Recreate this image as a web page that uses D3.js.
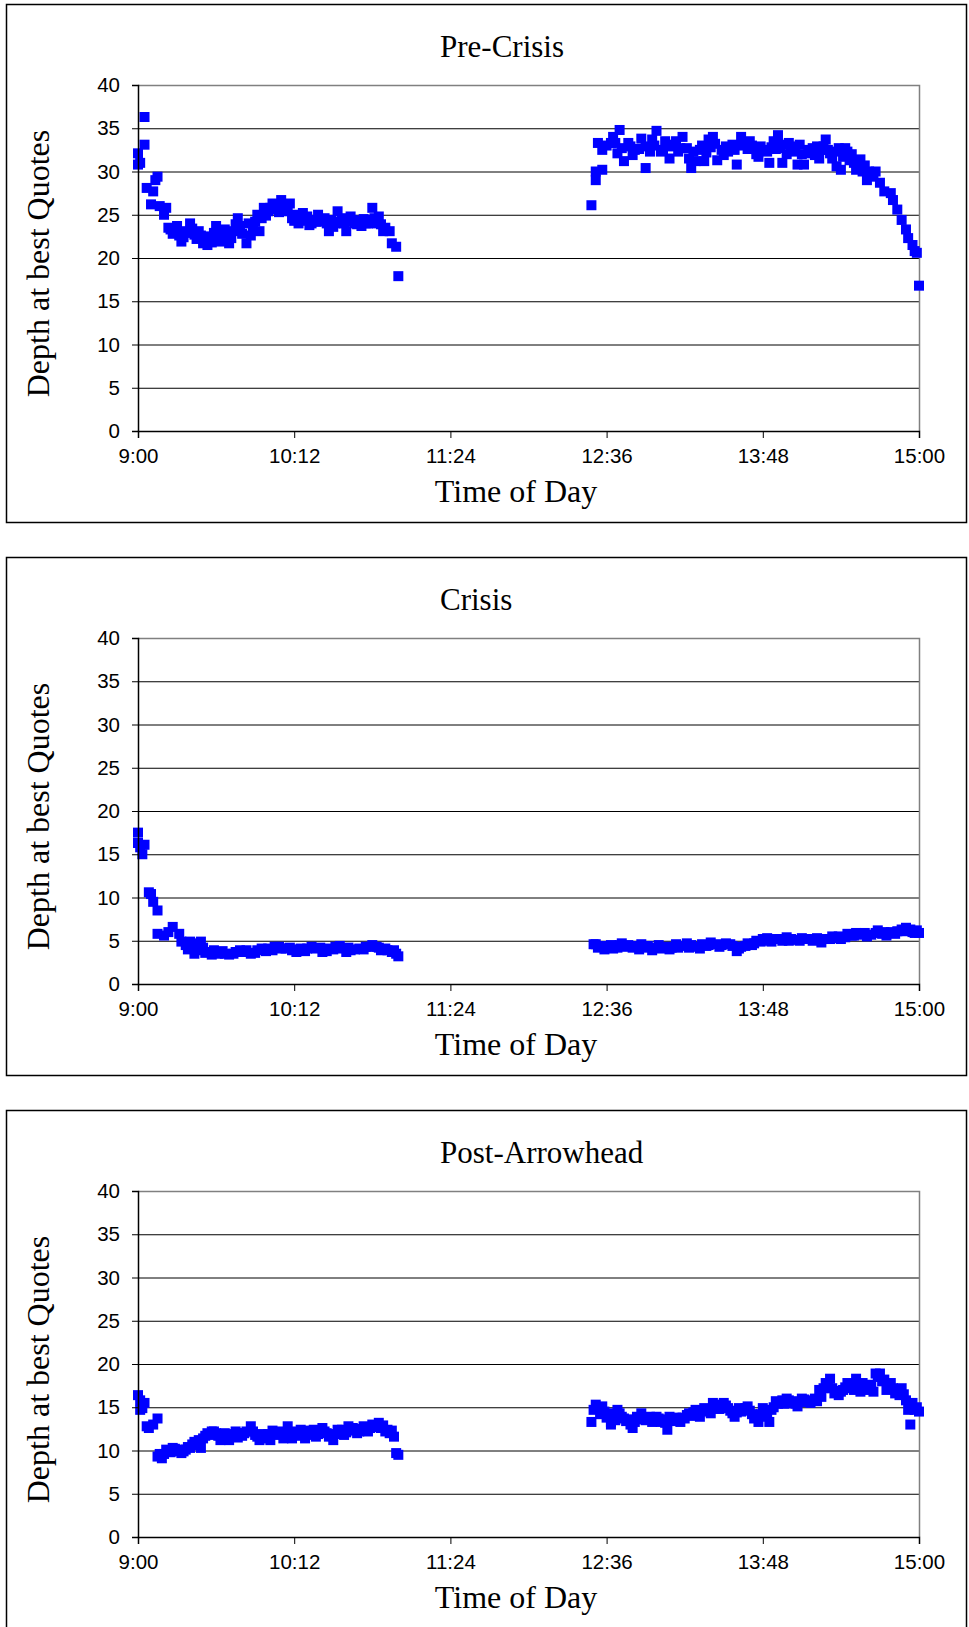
<!DOCTYPE html>
<html><head><meta charset="utf-8">
<script src="https://cdn.jsdelivr.net/npm/d3@7"></script>
<style>body{margin:0;background:#fff} svg{display:block}</style>
</head><body>
<svg id="chart" width="969" height="1627"></svg>
<script>
// ---------- data ----------
const panelTitles = ["Pre-Crisis", "Crisis", "Post-Arrowhead"];
const timeTickLabels = ["9:00", "10:12", "11:24", "12:36", "13:48", "15:00"];
const depthTicks = [0, 5, 10, 15, 20, 25, 30, 35, 40];
const xAxisTitle = "Time of Day";
const yAxisTitle = "Depth at best Quotes";

const preCrisisMinutes = [0,0,1,3,3,4,6,7,8,9,10,12,13,14,15,18,20,22,24,26,28,30,32,33,36,38,40,42,44,46,47,50,51,53,55,56,58,60,62,64,66,68,70,71,73,74,76,79,81,83,86,88,89,92,93,96,98,100,103,105,108,111,113,116,117,119,120,
  209,211,211,212,214,214,218,219,221,222,224,227,229,232,234,234,237,239,241,243,245,247,249,251,253,255,257,259,261,263,265,267,269,271,274,276,278,280,282,284,286,288,291,293,295,297,297,300,302,304,305,307,310,311,314,315,317,319,322,323,324,327,328,330,331,334,336,338,340,342,344,347,348,350,352,354,355,357,358,359,360,
  16,19,21,23,25,27,29,31,34,35,37,39,41,43,45,48,52,54,57,59,61,63,65,67,69,72,75,77,78,80,82,84,87,90,91,94,95,97,99,101,102,104,106,107,109,110,112,114,
  216,220,223,226,228,231,236,238,242,246,248,250,254,256,260,262,264,266,270,272,273,275,277,281,283,285,287,290,292,294,296,299,301,303,306,309,312,313,316,318,320,321,325,326,329,332,333,335,337,339];
const preCrisisDepth = [30.8,32.1,31.0,33.1,36.3,28.1,26.2,27.7,29.0,29.4,26.0,25.0,25.8,23.5,23.3,23.7,21.9,23.1,24.0,22.7,23.1,21.7,21.5,22.5,23.7,21.9,23.3,21.7,23.1,24.6,23.7,21.7,24.0,23.5,25.0,23.1,25.8,25.4,26.3,25.6,26.7,26.2,26.3,24.6,25.0,24.0,25.2,23.8,24.4,25.0,24.6,23.1,24.4,25.4,24.2,23.1,24.8,24.0,23.7,24.0,25.8,24.8,23.1,23.1,21.7,21.3,17.9,
  26.1,29.0,30.0,33.3,32.5,30.2,33.3,34.0,32.1,34.8,31.2,32.9,32.5,33.8,30.4,32.9,33.7,34.7,32.3,33.5,31.5,33.1,32.3,34.0,32.7,30.4,31.2,32.5,31.2,33.7,34.0,31.3,32.5,32.9,33.1,30.8,34.0,33.3,33.5,32.7,31.7,32.5,31.0,33.5,34.2,31.0,33.1,33.3,32.3,30.8,33.1,30.8,32.1,32.7,31.5,32.5,33.7,32.1,30.6,32.7,30.2,32.3,31.3,31.0,30.2,30.0,29.0,29.4,30.0,28.7,27.7,27.5,26.7,25.6,24.4,23.3,22.3,21.5,20.8,20.6,16.8,
  22.8,22.6,22.4,22.9,23.4,22.2,22.6,22.3,21.8,22.9,22.7,22.4,22.5,22.3,23.9,22.8,22.6,24.2,24.6,24.9,25.8,26.0,25.3,25.9,25.4,24.3,24.5,24.3,24.8,24.0,24.2,24.2,24.0,23.6,24.0,24.6,24.0,24.2,24.4,23.9,24.3,24.5,24.0,24.4,24.6,24.0,23.9,23.5,
  33.0,33.3,32.7,33.3,31.9,32.6,32.3,33.0,32.5,32.9,33.5,32.7,31.5,32.3,33.0,32.2,32.8,33.2,31.9,32.3,32.7,32.5,33.0,32.6,33.0,32.0,32.9,32.3,32.8,32.6,32.7,32.0,32.9,32.6,32.0,32.5,31.9,32.9,32.9,32.5,31.5,32.3,31.7,32.7,32.0,30.8,31.4,30.7,30.0,29.6];

const crisisMinutes = [0,0,1,2,3,5,6,7,9,9,12,14,16,19,20,22,24,26,28,29,32,34,37,40,42,45,47,49,52,55,57,60,63,66,68,71,73,75,78,82,85,88,91,94,96,98,102,105,108,110,112,115,118,119,120,
  210,212,214,216,218,221,223,225,228,230,232,234,237,239,241,244,246,248,251,253,255,258,260,262,264,267,269,271,274,276,278,281,283,285,288,290,292,294,297,299,301,304,306,308,311,313,315,317,320,322,324,327,329,331,334,336,338,341,343,345,347,350,352,354,357,359,360,
  23,25,27,30,31,35,39,44,50,54,59,62,65,70,74,77,80,84,87,90,93,97,100,104,107,111,114,117,
  211,215,219,222,226,231,235,240,245,249,254,259,263,268,273,277,280,284,287,291,296,300,305,310,314,319,323,326,330,335,340,344,349,353,356,358];
const crisisDepth = [17.5,16.3,15.8,15.0,16.1,10.6,10.4,9.5,8.5,5.8,5.6,6.0,6.6,5.8,4.9,4.5,4.9,3.5,4.7,4.9,3.7,3.4,3.5,3.5,3.4,3.7,3.9,3.7,3.5,3.9,4.1,4.1,4.3,4.1,4.1,3.9,3.7,4.1,4.1,4.1,3.7,4.1,4.3,4.1,3.7,3.9,4.1,4.3,4.5,4.3,3.9,3.9,3.9,3.5,3.2,
  4.6,4.2,4.4,4.3,4.5,4.2,4.7,4.3,4.2,4.4,4.6,4.2,3.9,4.2,4.1,4.3,4.2,4.6,4.4,4.7,4.5,4.3,4.6,4.4,4.8,4.6,4.5,4.7,4.4,3.8,4.3,4.7,4.5,5.0,5.2,5.3,4.9,5.2,5.0,5.4,5.2,5.1,5.3,5.2,5.0,5.3,4.8,5.2,5.5,5.3,5.2,5.8,5.6,5.9,5.7,5.5,5.7,6.2,5.8,5.6,6.0,6.1,6.3,6.5,6.0,6.2,5.9,
  4.0,4.6,3.9,4.2,3.6,3.9,3.8,3.5,3.9,3.6,3.8,3.9,4.3,4.2,4.0,3.8,4.3,4.2,3.8,4.0,4.4,4.2,4.0,4.0,4.3,4.2,4.1,3.7,
  4.6,4.0,4.1,4.5,4.5,4.0,4.4,4.5,4.0,4.2,4.2,4.1,4.5,4.3,4.6,4.1,4.4,4.7,4.9,5.0,5.2,5.0,5.0,5.2,5.1,5.2,5.5,5.4,5.6,5.9,5.9,6.0,5.8,6.1,6.3,5.9];

const postArrowheadMinutes = [0,1,1,2,3,4,5,7,9,9,11,13,16,18,20,22,25,26,29,30,32,34,36,38,40,42,45,47,49,52,54,56,59,61,63,65,67,69,71,73,75,77,79,82,84,85,88,90,92,95,97,99,102,104,106,108,111,112,115,116,118,119,120,
  209,211,214,215,218,218,221,222,224,227,228,230,232,234,237,239,241,244,245,247,250,252,254,257,259,261,264,265,267,270,272,275,277,279,281,284,286,288,291,292,294,297,299,301,304,306,308,311,313,314,317,319,321,323,325,327,329,331,333,334,337,339,340,342,344,345,347,349,351,352,354,355,356,357,358,360,
  10,12,14,15,17,19,21,23,24,27,28,31,33,35,37,39,41,43,44,46,48,50,53,55,57,58,60,62,64,66,68,70,72,74,76,78,80,81,83,86,87,89,91,93,94,96,98,100,101,103,105,107,109,110,113,114,117,
  210,212,213,216,217,219,220,223,225,226,229,231,233,235,236,238,240,242,243,246,248,249,251,253,255,256,258,260,262,263,266,268,269,271,273,274,276,278,280,282,283,285,287,289,290,293,295,296,298,300,302,303,305,307,309,310,312,315,316,318,320,322,324,326,328,330,332,335,336,338,341,343,346,348,350,353,356,359];
const postArrowheadDepth = [16.4,15.8,14.7,14.9,15.5,12.8,12.6,13.0,13.7,9.3,9.1,10.1,10.3,9.9,9.7,10.1,10.7,11.0,10.3,11.4,12.0,12.2,12.0,11.2,12.0,11.2,12.2,12.0,12.0,12.8,11.8,11.2,11.6,11.2,11.8,12.2,11.4,12.8,11.4,12.2,12.4,11.4,11.8,11.6,12.2,12.6,11.6,11.2,12.4,11.8,12.8,12.6,12.2,12.8,12.2,13.0,13.2,12.6,12.4,12.0,11.6,9.7,9.5,
  13.3,15.3,15.1,14.5,13.3,13.0,14.7,14.3,13.7,13.0,12.6,13.9,14.3,13.5,13.3,13.9,13.3,12.4,13.9,13.5,13.3,13.7,14.3,14.7,13.9,14.9,14.3,15.5,15.3,15.5,14.9,13.9,14.9,14.7,15.1,13.7,13.3,14.9,13.3,14.7,15.7,15.8,16.0,15.5,15.1,16.0,15.7,15.8,15.7,17.0,17.8,18.3,16.6,16.4,17.0,17.8,17.2,18.3,16.8,17.8,17.6,16.8,18.9,18.9,18.2,17.0,17.8,16.6,16.4,17.2,15.8,14.7,13.0,15.5,14.7,14.5,
  9.6,9.6,10.0,9.8,10.2,10.1,9.9,10.4,10.3,10.6,11.2,11.7,11.8,12.2,11.7,11.6,11.8,11.9,11.6,11.5,11.7,12.2,12.2,11.6,11.9,11.4,11.9,12.3,11.9,12.0,12.0,12.1,11.9,11.7,11.8,12.3,12.0,12.4,11.9,12.2,12.0,11.7,11.9,12.1,12.4,12.1,12.3,12.5,12.0,12.4,12.6,12.6,12.7,12.9,12.9,12.2,12.3,
  14.7,14.8,14.2,13.8,14.3,14.1,13.5,13.9,13.4,13.6,13.3,13.6,13.8,13.6,13.9,13.4,13.7,13.6,13.2,13.4,13.8,13.6,13.8,14.1,14.0,14.4,14.3,14.6,14.5,14.8,15.0,14.8,15.1,15.2,14.6,14.3,14.4,14.5,14.9,14.6,14.2,13.8,14.2,14.4,13.9,15.0,15.4,15.5,15.4,15.8,15.7,15.4,15.6,15.9,15.6,15.5,16.0,16.2,17.2,17.6,17.2,16.9,16.8,17.3,17.6,17.0,17.3,17.0,17.3,17.4,18.5,18.0,17.5,17.2,16.9,16.5,15.0,15.0];

const panelMinutes = [preCrisisMinutes, crisisMinutes, postArrowheadMinutes];
const panelDepth = [preCrisisDepth, crisisDepth, postArrowheadDepth];

// ---------- drawing ----------
const svg = d3.select("#chart");
svg.append("rect").attr("width", 969).attr("height", 1627).attr("fill", "#fff");

const panelStep = 553;
const plot = {left: 138, right: 919, top: 85, bottom: 431};
const toMinutes = s => { const [h, m] = s.split(":").map(Number); return (h - 9) * 60 + m; };
const tickMinutes = timeTickLabels.map(toMinutes);

const x = d3.scaleLinear().domain([0, 360]).range([plot.left, plot.right]);
const y = d3.scaleLinear().domain([0, 40]).range([plot.bottom, plot.top]);
const sansFont = "'Liberation Sans', Arial, sans-serif";
const serifFont = "'Liberation Serif', 'Times New Roman', serif";
const markerSize = 10;

panelTitles.forEach((title, i) => {
  const g = svg.append("g").attr("transform", `translate(0,${i * panelStep})`);

  // outer frame
  g.append("rect").attr("x", 6.5).attr("y", 4.5).attr("width", 960).attr("height", 518)
    .attr("fill", "none").attr("stroke", "#000").attr("stroke-width", 1.5);

  // gridlines
  g.append("g").attr("transform", `translate(${plot.left},0)`)
    .call(d3.axisLeft(y).tickValues(depthTicks.filter(d => d > 0 && d < 40))
      .tickSize(-(plot.right - plot.left)).tickFormat(""))
    .call(a => a.select(".domain").remove())
    .call(a => a.selectAll("line").attr("stroke", "#000").attr("stroke-width", 1));

  // plot frame top/right (gray)
  g.append("path")
    .attr("d", `M${plot.left},${plot.top + 0.5}H${plot.right + 0.5}V${plot.bottom}`)
    .attr("fill", "none").attr("stroke", "#808080").attr("stroke-width", 1.5);

  // points
  const pts = panelMinutes[i].map((m, k) => ({m, v: panelDepth[i][k]}));
  g.append("g").selectAll("rect").data(pts).join("rect")
    .attr("x", d => x(d.m) - markerSize / 2)
    .attr("y", d => y(d.v) - markerSize / 2)
    .attr("width", markerSize).attr("height", markerSize)
    .attr("fill", "#0000ff");

  // y axis
  g.append("g").attr("transform", `translate(${plot.left},0)`)
    .call(d3.axisLeft(y).tickValues(depthTicks).tickSize(6).tickPadding(12))
    .call(a => a.select(".domain").attr("stroke", "#000").attr("stroke-width", 1.5))
    .call(a => a.selectAll("line").attr("stroke", "#000"))
    .call(a => a.selectAll("text").attr("font-family", sansFont).attr("font-size", 20.5).attr("fill", "#000"));

  // x axis
  g.append("g").attr("transform", `translate(0,${plot.bottom})`)
    .call(d3.axisBottom(x).tickValues(tickMinutes).tickSize(7).tickPadding(10)
      .tickFormat((d, k) => timeTickLabels[k]))
    .call(a => a.select(".domain").attr("stroke", "#000").attr("stroke-width", 1.5))
    .call(a => a.selectAll("line").attr("stroke", "#000"))
    .call(a => a.selectAll("text").attr("font-family", sansFont).attr("font-size", 20.5).attr("fill", "#000"));

  // title
  g.append("text").attr("x", 440).attr("y", 57)
    .attr("font-family", serifFont).attr("font-size", 31).attr("fill", "#000")
    .text(title);

  // x axis title
  g.append("text").attr("x", 516).attr("y", 502).attr("text-anchor", "middle")
    .attr("font-family", serifFont).attr("font-size", 32).attr("fill", "#000")
    .text(xAxisTitle);

  // y axis title
  g.append("text").attr("transform", `translate(49,263.5) rotate(-90)`)
    .attr("text-anchor", "middle")
    .attr("font-family", serifFont).attr("font-size", 32).attr("fill", "#000")
    .text(yAxisTitle);
});
</script>
</body></html>
